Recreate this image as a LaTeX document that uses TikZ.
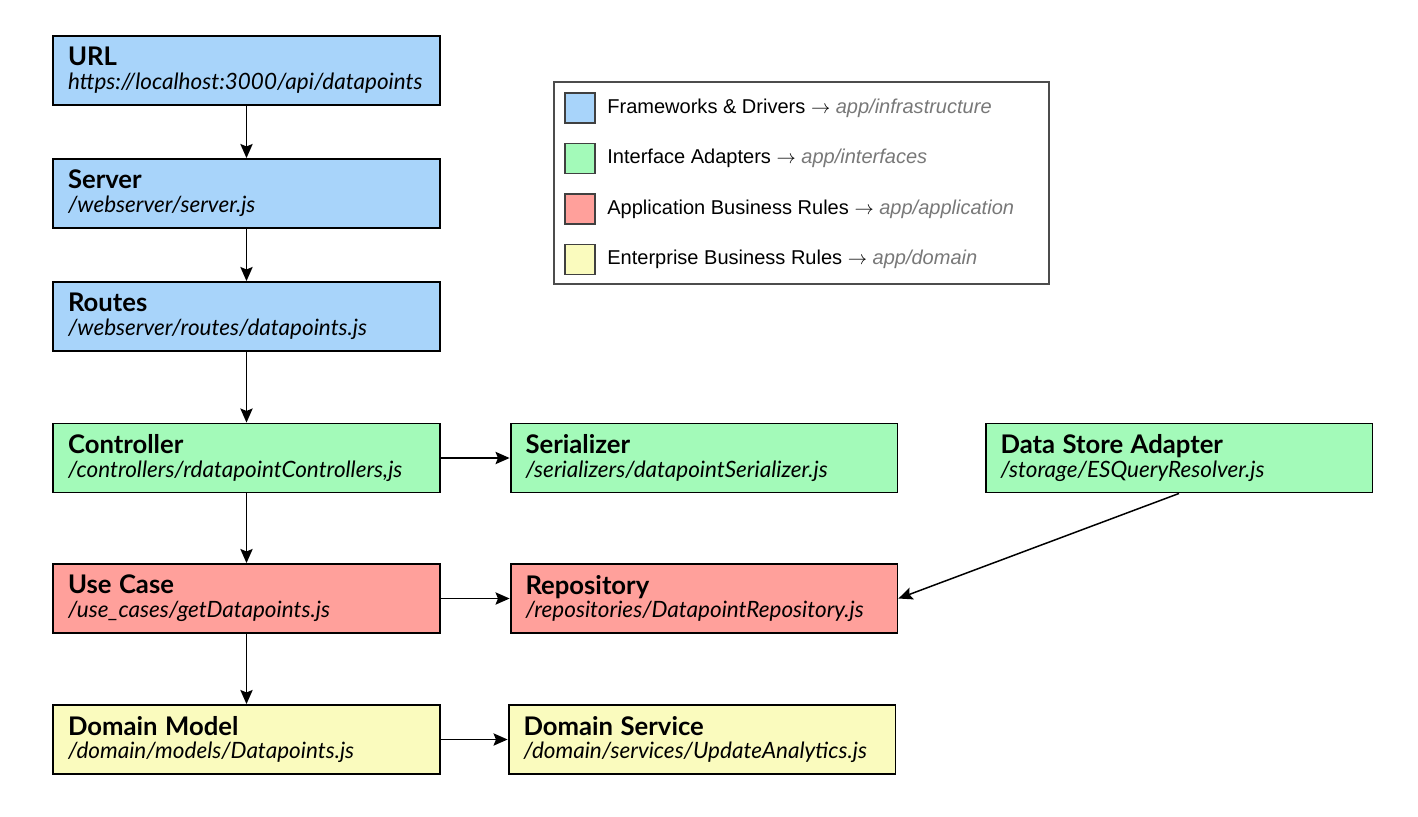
\documentclass[tikz,border=0pt]{standalone}
\usepackage{fontspec}
\setmainfont{Lato}
\newfontfamily\legendfont{Liberation Sans}
\usetikzlibrary{arrows.meta}
\definecolor{infra}{RGB}{168,212,250}
\definecolor{iface}{RGB}{163,250,185}
\definecolor{appl}{RGB}{255,160,155}
\definecolor{domn}{RGB}{250,251,190}
\definecolor{pathgray}{RGB}{120,120,120}

\newcommand{\boxtext}[2]{{\fontsize{14.6}{15}\selectfont\bfseries #1}\\{\fontsize{12.8}{15.5}\selectfont\itshape #2}}

\begin{document}
\begin{tikzpicture}[
  x=0.02cm, y=-0.02cm,
  layer/.style  = {draw, line width=1.1pt, minimum width=7.74cm, minimum height=1.38cm,
                   text width=7.14cm, align=left, inner xsep=0.3cm, inner ysep=0pt,
                   font=\fontsize{12.8}{13.6}\selectfont},
  arr/.style    = {-{Stealth[length=8pt,width=7pt,inset=1.4pt]}, line width=0.85pt},
  swatch/.style = {draw=black!75, line width=0.7pt, minimum size=0.6cm, inner sep=0pt},
  entry/.style  = {anchor=west, inner sep=0pt, font=\legendfont\fontsize{11.4}{13}\selectfont}
]
\useasboundingbox (0,0) rectangle (1418,816);

% main column
\node[layer, fill=infra] (url)     at (246.5, 70.5)  {\boxtext{URL}{https://localhost:3000/api/datapoints}};
\node[layer, fill=infra] (server)  at (246.5, 193.5) {\boxtext{Server}{/webserver/server.js}};
\node[layer, fill=infra] (routes)  at (246.5, 316.5) {\boxtext{Routes}{/webserver/routes/datapoints.js}};
\node[layer, fill=iface] (ctrl)    at (246.5, 458)   {\boxtext{Controller}{/controllers/rdatapointControllers,js}};
\node[layer, fill=appl]  (usecase) at (246.5, 598.5) {\boxtext{Use Case}{/use\_cases/getDatapoints.js}};
\node[layer, fill=domn]  (dmodel)  at (246.5, 739.5) {\boxtext{Domain Model}{/domain/models/Datapoints.js}};

% right side
\node[layer, fill=iface] (serial)   at (704, 458)    {\boxtext{Serializer}{/serializers/datapointSerializer.js}};
\node[layer, fill=appl]  (repo)     at (704, 598.5)  {\boxtext{Repository}{/repositories/DatapointRepository.js}};
\node[layer, fill=domn]  (dservice) at (702, 739.5)  {\boxtext{Domain Service}{/domain/services/UpdateAnalytics.js}};
\node[layer, fill=iface] (dsa)      at (1179, 458)   {\boxtext{Data Store Adapter}{/storage/ESQueryResolver.js}};

\draw[arr] (url) -- (server);
\draw[arr] (server) -- (routes);
\draw[arr] (routes) -- (ctrl);
\draw[arr] (ctrl) -- (usecase);
\draw[arr] (usecase) -- (dmodel);
\draw[arr] (ctrl) -- (serial);
\draw[arr] (usecase) -- (repo);
\draw[arr] (dmodel) -- (dservice);
\draw[arr] (dsa.south) -- (repo.east);

% legend
\node[draw=black!70, line width=0.8pt, minimum width=9.9cm, minimum height=4.04cm, inner sep=0pt] (legend) at (801.5, 183) {};
\node[swatch, fill=infra] (sw1) at (580, 108) {};
\node[swatch, fill=iface] (sw2) at (580, 158.5) {};
\node[swatch, fill=appl]  (sw3) at (580, 209) {};
\node[swatch, fill=domn]  (sw4) at (580, 259.5) {};
\node[entry] (lg1) at (607, 108)   {Frameworks \& Drivers $\rightarrow$ {\color{pathgray}\itshape app/infrastructure}};
\node[entry] (lg2) at (607, 158.5) {Interface Adapters $\rightarrow$ {\color{pathgray}\itshape app/interfaces}};
\node[entry] (lg3) at (607, 209)   {Application Business Rules $\rightarrow$ {\color{pathgray}\itshape app/application}};
\node[entry] (lg4) at (607, 259.5) {Enterprise Business Rules $\rightarrow$ {\color{pathgray}\itshape app/domain}};
\end{tikzpicture}
\end{document}
